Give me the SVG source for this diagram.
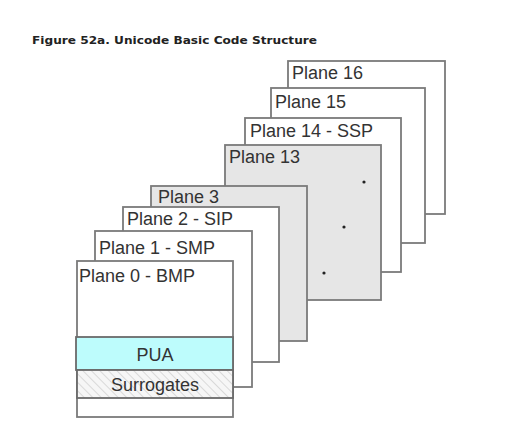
<svg xmlns="http://www.w3.org/2000/svg" width="522" height="446" viewBox="0 0 522 446">
<style>
.pl{stroke:#7a7a7a;stroke-width:1.8;fill:#fff}
.g{fill:#e6e6e6}
.t{font-family:"Liberation Sans",Arial,sans-serif;font-size:18px;fill:#333}
.dot{fill:#222}
</style>
<defs>
<pattern id="hatch" width="6" height="6" patternUnits="userSpaceOnUse" patternTransform="rotate(-45)">
<rect width="6" height="6" fill="#f6f6f6"/>
<line x1="0" y1="0" x2="0" y2="6" stroke="#d0d0d0" stroke-width="1.5"/>
</pattern>
</defs>
<rect width="522" height="446" fill="#fff"/>
<text x="32" y="44" font-family="'DejaVu Sans',Verdana,sans-serif" font-weight="bold" font-size="11" fill="#222" textLength="285" lengthAdjust="spacingAndGlyphs">Figure 52a. Unicode Basic Code Structure</text>
<g id="plane16"><rect class="pl" x="288" y="61" width="157" height="153"/><text class="t" x="292" y="79">Plane 16</text></g>
<g id="plane15"><rect class="pl" x="271" y="88" width="154" height="155"/><text class="t" x="275" y="108">Plane 15</text></g>
<g id="plane14"><rect class="pl" x="245" y="118" width="156" height="154"/><text class="t" x="250" y="137">Plane 14 - SSP</text></g>
<g id="plane13"><rect class="pl g" x="225" y="145" width="156" height="155"/><text class="t" x="229" y="163">Plane 13</text>
<circle class="dot" cx="364" cy="182" r="1.6"/><circle class="dot" cx="344" cy="227" r="1.6"/><circle class="dot" cx="324" cy="273" r="1.6"/></g>
<g id="plane3"><rect class="pl g" x="151" y="186" width="156" height="155"/><text class="t" x="158" y="203">Plane 3</text></g>
<g id="plane2"><rect class="pl" x="123" y="207" width="156" height="155"/><text class="t" x="127" y="225">Plane 2 - SIP</text></g>
<g id="plane1"><rect class="pl" x="95" y="231" width="157" height="156"/><text class="t" x="99" y="254">Plane 1 - SMP</text></g>
<g id="plane0"><rect class="pl" x="77" y="261" width="156" height="156"/><text class="t" x="79" y="282">Plane 0 - BMP</text>
<rect x="76" y="337" width="157" height="33" fill="#bdfcfc" stroke="#6a6a6a" stroke-width="1.8"/>
<text class="t" x="155" y="361" text-anchor="middle">PUA</text>
<rect x="77" y="370" width="156" height="28" fill="url(#hatch)" stroke="#6a6a6a" stroke-width="1.8"/>
<text class="t" x="155" y="391" text-anchor="middle" fill="#444">Surrogates</text></g>
<g id="connectors"></g>
</svg>
